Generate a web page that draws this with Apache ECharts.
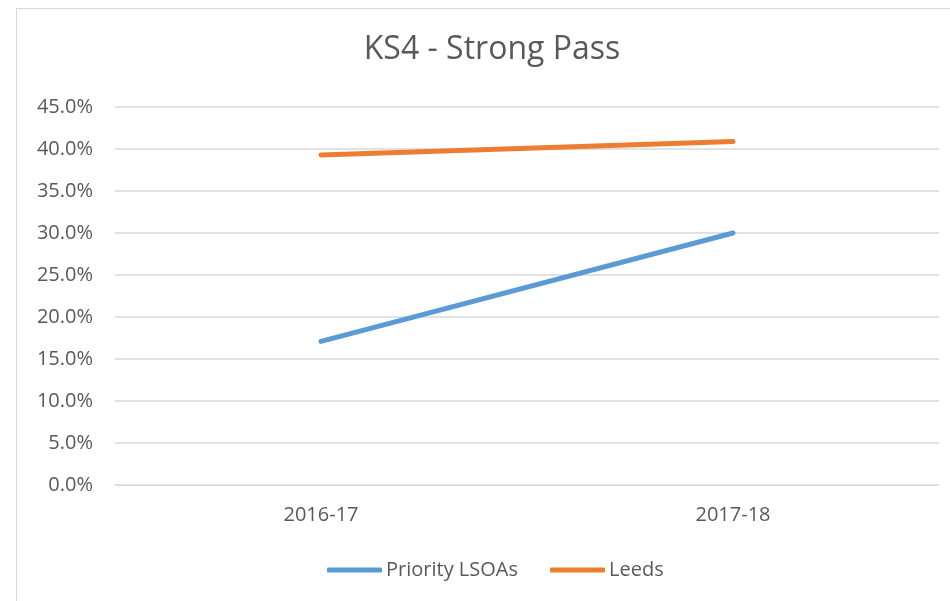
<!DOCTYPE html>
<html>
<head>
<meta charset="utf-8">
<script src="https://cdn.jsdelivr.net/npm/echarts@6/dist/echarts.min.js"></script>
<style>
  html, body { margin: 0; padding: 0; background: #fff; }
  #chart { width: 950px; height: 601px; }
  .frame { position: absolute; left: 16px; top: 8px; width: 960px; height: 620px; border: 1px solid #d9d9d9; pointer-events: none; }
</style>
</head>
<body>
<div id="chart"></div>
<div class="frame"></div>
<script>
var years = ['2016-17', '2017-18'];
var priorityLsoas = [17.1, 30.0];
var leeds = [39.3, 40.9];
var yTicks = { min: 0, max: 45, step: 5 };

var textColor = '#595959';
var font = 'Open Sans';

var chart = echarts.init(document.getElementById('chart'));
chart.setOption({
  animation: false,
  title: {
    text: 'KS4 - Strong Pass',
    left: 487,
    textAlign: 'center',
    top: 29,
    textStyle: { fontFamily: font, fontSize: 32, fontWeight: 'normal', color: textColor }
  },
  legend: {
    top: 555,
    left: 322,
    icon: 'roundRect',
    itemWidth: 55,
    itemHeight: 5,
    itemGap: 32,
    textStyle: { fontFamily: font, fontSize: 20, color: textColor, padding: [0, 0, 0, -1] },
    data: ['Priority LSOAs', 'Leeds']
  },
  grid: { left: 115, right: 11, top: 107, bottom: 116, containLabel: false },
  xAxis: {
    type: 'category',
    data: years,
    boundaryGap: true,
    axisLine: { lineStyle: { color: '#d9d9d9', width: 1 } },
    axisTick: { show: false },
    axisLabel: { fontFamily: font, fontSize: 20, color: textColor, margin: 20 }
  },
  yAxis: {
    type: 'value',
    min: yTicks.min,
    max: yTicks.max,
    interval: yTicks.step,
    axisLine: { show: false },
    axisTick: { show: false },
    axisLabel: {
      fontFamily: font, fontSize: 20, color: textColor, margin: 22,
      formatter: function (v) { return v.toFixed(1) + '%'; }
    },
    splitLine: { lineStyle: { color: '#d9d9d9', width: 1.5 } }
  },
  series: [
    {
      name: 'Priority LSOAs',
      type: 'line',
      data: priorityLsoas,
      symbol: 'none',
      itemStyle: { color: '#5B9BD5' },
      lineStyle: { color: '#5B9BD5', width: 5, cap: 'round' }
    },
    {
      name: 'Leeds',
      type: 'line',
      data: leeds,
      symbol: 'none',
      itemStyle: { color: '#ED7D31' },
      lineStyle: { color: '#ED7D31', width: 5, cap: 'round' }
    }
  ]
});
</script>
</body>
</html>
